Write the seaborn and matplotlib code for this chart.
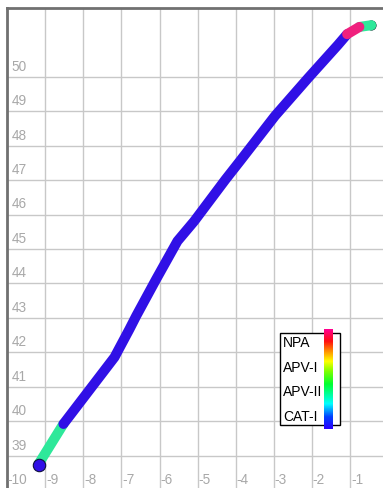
import numpy as np
import pandas as pd
import matplotlib
matplotlib.use("Agg")
import matplotlib.pyplot as plt
from matplotlib.colors import LinearSegmentedColormap
import matplotlib.transforms as mtransforms
import seaborn as sns

# Approach track, split into segments by guidance level
seg_ids = [0, 0, 1, 1, 1, 1, 1, 1, 1, 1, 1, 1, 1, 1, 1, 2, 2, 3, 3]
levels = ["APV-II", "APV-II",
          "CAT-I", "CAT-I", "CAT-I", "CAT-I", "CAT-I", "CAT-I", "CAT-I",
          "CAT-I", "CAT-I", "CAT-I", "CAT-I", "CAT-I", "CAT-I",
          "NPA", "NPA", "APV-II", "APV-II"]
x_vals = [-9.17, -8.52,
          -8.52, -7.18, -6.79, -6.61, -6.09, -5.53, -5.09, -4.27, -3.88,
          -2.97, -2.10, -1.32, -1.08,
          -1.08, -0.76,
          -0.76, -0.45]
y_vals = [38.76, 39.92,
          39.92, 41.86, 42.67, 43.06, 44.12, 45.23, 45.81, 47.02, 47.57,
          48.87, 49.97, 50.93, 51.24,
          51.24, 51.45,
          51.45, 51.50]

x_ticks = [-10, -9, -8, -7, -6, -5, -4, -3, -2, -1]
y_ticks = [39, 40, 41, 42, 43, 44, 45, 46, 47, 48, 49, 50]
legend_labels = ["NPA", "APV-I", "APV-II", "CAT-I"]

level_colors = {"CAT-I": "#3010e6", "APV-II": "#2ee89a", "NPA": "#f0207e"}

df = pd.DataFrame({"x": x_vals, "y": y_vals, "level": levels, "seg": seg_ids})

sns.set_style("white")
W, H = 383, 489
fig = plt.figure(figsize=(W / 100, H / 100), dpi=100)
ax = fig.add_axes([7 / W, 0, 1 - 7 / W, (H - 9) / H])
ax.set_xlim(-10.0, -0.14)
ax.set_ylim(38.06, 52.0)

for v in x_ticks:
    ax.axvline(v, color="#c8c8c8", lw=1.0, zorder=0)
for v in y_ticks:
    ax.axhline(v, color="#c8c8c8", lw=1.0, zorder=0)

sns.lineplot(data=df, x="x", y="y", hue="level", units="seg", estimator=None,
             sort=False, palette=level_colors, lw=7.2, legend=False, ax=ax,
             solid_capstyle="round", zorder=3)

# start and end markers
sns.scatterplot(x=[x_vals[0]], y=[y_vals[0] - 0.04], color=level_colors["CAT-I"],
                s=80, edgecolor="#101040", linewidth=0.8, ax=ax, zorder=4, legend=False)
sns.scatterplot(x=[x_vals[-1]], y=[y_vals[-1]], color=level_colors["APV-II"],
                s=45, edgecolor="#103030", linewidth=0.6, ax=ax, zorder=2, legend=False)

ax.set_xticks([])
ax.set_yticks([])
ax.set_xlabel("")
ax.set_ylabel("")
for side in ("right", "bottom"):
    ax.spines[side].set_visible(False)
for side in ("left", "top"):
    ax.spines[side].set_color("#707070")
    ax.spines[side].set_linewidth(2)

tick_color = "#a8a8a8"
tick_font = dict(fontsize=9.8, color=tick_color, family="Liberation Sans")
bx = mtransforms.blended_transform_factory(ax.transData, ax.transAxes)
for v in x_ticks:
    ax.text(v + 0.02, 0.004, "-" + str(abs(v)) if v < 0 else str(v),
            transform=bx, ha="left", va="bottom", **tick_font)
by = mtransforms.blended_transform_factory(ax.transAxes, ax.transData)
for v in y_ticks:
    ax.text(0.012, v + 0.12, str(v), transform=by, ha="left", va="bottom", **tick_font)

# level legend with colour strip
def fx(px):
    return px / W

def fy(py):
    return 1 - py / H

box = plt.Rectangle((fx(280), fy(426)), fx(340) - fx(280), fy(334) - fy(426),
                    transform=fig.transFigure, facecolor="white", edgecolor="black",
                    lw=1.0, zorder=5)
fig.patches.append(box)

cmap = LinearSegmentedColormap.from_list(
    "levels", [(0.0, "#2a00ff"), (0.12, "#0040ff"), (0.25, "#00ffff"),
               (0.45, "#00ff30"), (0.58, "#80ff00"), (0.68, "#ffff00"),
               (0.78, "#ff9000"), (0.88, "#ff1010"), (1.0, "#ff0090")])
cax = fig.add_axes([fx(324), fy(430), fx(333) - fx(324), fy(330) - fy(430)])
cax.imshow(np.linspace(0, 1, 200).reshape(-1, 1), cmap=cmap, aspect="auto",
           origin="lower")
cax.set_axis_off()
cax.set_zorder(6)

for lab, py in zip(legend_labels, [343, 368, 392, 417]):
    fig.text(fx(283), fy(py), lab, ha="left", va="center", fontsize=10,
             color="black", family="Liberation Sans", zorder=7)

fig.savefig("out.png", dpi=100)
